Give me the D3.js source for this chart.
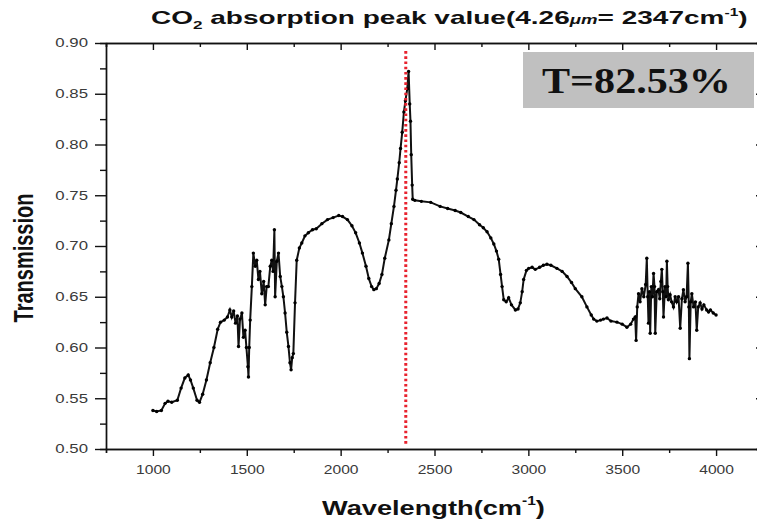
<!DOCTYPE html>
<html>
<head>
<meta charset="utf-8">
<script src="https://cdn.jsdelivr.net/npm/d3@7"></script>
<style>
  body { margin: 0; background: #fff; }
  svg { display: block; font-family: "Liberation Sans", Arial, sans-serif; }
</style>
</head>
<body>
<div id="chart"></div>
<script>
// spectrum (wavenumber in cm-1, transmission)
const wavenumber = [
  1000, 1020, 1045, 1065, 1080, 1100, 1130, 1150, 1170, 1188, 1200, 1215, 1235, 1248, 1265, 1285,
  1305, 1325, 1345, 1360, 1380, 1397, 1410, 1420, 1430, 1440, 1450, 1456, 1464, 1474, 1482, 1491,
  1498, 1506, 1509, 1513, 1518, 1527, 1535, 1545, 1553, 1562, 1570, 1580, 1590, 1598, 1606, 1615,
  1625, 1633, 1640, 1647, 1651, 1660, 1669, 1678, 1687, 1695, 1704, 1713, 1722, 1730, 1736, 1742,
  1748, 1757, 1766, 1780, 1793, 1810, 1828, 1850, 1870, 1900, 1930, 1960, 1990, 2010, 2036, 2060,
  2080, 2100, 2116, 2135, 2150, 2165, 2177, 2190, 2205, 2220, 2235, 2257, 2270, 2284, 2295, 2302,
  2312, 2319, 2328, 2337, 2345, 2355, 2362, 2368, 2372, 2376, 2381, 2384, 2395, 2430, 2480, 2530,
  2570, 2610, 2640, 2680, 2710, 2740, 2760, 2780, 2800, 2816, 2830, 2842, 2852, 2860, 2869, 2882,
  2895, 2910, 2931, 2945, 2957, 2967, 2975, 2990, 3002, 3020, 3037, 3060, 3080, 3099, 3120, 3152,
  3180, 3206, 3230, 3250, 3285, 3312, 3335, 3348, 3365, 3385, 3400, 3419, 3440, 3472, 3500, 3525,
  3545, 3560, 3569, 3574, 3580, 3587, 3595, 3605, 3615, 3625, 3631, 3636, 3640, 3645, 3649, 3655,
  3661, 3667, 3672, 3676, 3684, 3693, 3700, 3706, 3711, 3716, 3720, 3728, 3734, 3738, 3742, 3746,
  3755, 3763, 3773, 3782, 3790, 3800, 3809, 3818, 3826, 3835, 3843, 3850, 3855, 3858, 3865, 3871,
  3880, 3890, 3897, 3905, 3915, 3925, 3935, 3950, 3960, 3970, 3985, 4000
];
const transmission = [
  0.538, 0.537, 0.538, 0.545, 0.547, 0.546, 0.548, 0.560, 0.570, 0.573, 0.568, 0.560, 0.548, 0.546, 0.554, 0.568,
  0.585, 0.600, 0.618, 0.625, 0.627, 0.630, 0.637, 0.630, 0.636, 0.624, 0.631, 0.601, 0.628, 0.634, 0.610, 0.617,
  0.600, 0.581, 0.571, 0.600, 0.627, 0.660, 0.693, 0.680, 0.686, 0.667, 0.675, 0.653, 0.665, 0.642, 0.660, 0.660,
  0.680, 0.686, 0.675, 0.716, 0.650, 0.685, 0.693, 0.670, 0.660, 0.650, 0.634, 0.615, 0.601, 0.585, 0.578, 0.590,
  0.594, 0.644, 0.686, 0.698, 0.703, 0.710, 0.713, 0.716, 0.717, 0.722, 0.726, 0.728, 0.730, 0.729, 0.726, 0.720,
  0.713, 0.703, 0.693, 0.680, 0.668, 0.660, 0.657, 0.658, 0.663, 0.672, 0.688, 0.706, 0.722, 0.739, 0.755, 0.766,
  0.782, 0.796, 0.812, 0.832, 0.843, 0.855, 0.872, 0.840, 0.823, 0.790, 0.760, 0.746, 0.745, 0.744, 0.743, 0.739,
  0.737, 0.735, 0.733, 0.729, 0.726, 0.721, 0.718, 0.714, 0.708, 0.702, 0.695, 0.687, 0.672, 0.660, 0.647, 0.645,
  0.649, 0.642, 0.637, 0.638, 0.644, 0.655, 0.667, 0.676, 0.678, 0.679, 0.677, 0.679, 0.681, 0.682, 0.681, 0.678,
  0.675, 0.670, 0.664, 0.658, 0.650, 0.640, 0.632, 0.628, 0.626, 0.627, 0.628, 0.629, 0.626, 0.625, 0.623, 0.620,
  0.623, 0.628, 0.630, 0.607, 0.640, 0.653, 0.645, 0.658, 0.650, 0.662, 0.688, 0.650, 0.624, 0.655, 0.614, 0.660,
  0.650, 0.673, 0.660, 0.614, 0.655, 0.657, 0.648, 0.665, 0.677, 0.655, 0.630, 0.660, 0.650, 0.685, 0.660, 0.647,
  0.652, 0.645, 0.640, 0.650, 0.645, 0.650, 0.619, 0.648, 0.657, 0.645, 0.650, 0.683, 0.640, 0.589, 0.645, 0.653,
  0.640, 0.645, 0.617, 0.640, 0.644, 0.638, 0.642, 0.637, 0.635, 0.637, 0.634, 0.632
];
const xTicks = [1000, 1500, 2000, 2500, 3000, 3500, 4000];
const xMinorTicks = [750, 1250, 1750, 2250, 2750, 3250, 3750, 4250];
const yTicks = [0.50, 0.55, 0.60, 0.65, 0.70, 0.75, 0.80, 0.85, 0.90];
const yMinorTicks = [0.525, 0.575, 0.625, 0.675, 0.725, 0.775, 0.825, 0.875];
const peakWavenumber = 2347;
const peakLabel = "T=82.53%";

const W = 757, H = 528;
const margin = {top: 43, right: -6, bottom: 79, left: 106};

const x = d3.scaleLinear().domain([750, 4250]).range([margin.left, W - margin.right]);
const y = d3.scaleLinear().domain([0.50, 0.90]).range([H - margin.bottom, margin.top]);

const svg = d3.select("#chart").append("svg")
    .attr("width", W).attr("height", H);
svg.append("rect").attr("width", W).attr("height", H).attr("fill", "#fff");

// stretch a text horizontally so that it covers the wanted width
function stretch(text, width) {
    let w = text.node().getComputedTextLength();
    return width / w;
}

// axes: bottom / left outward, top / right inward
const axisColor = "#111";
function styleAxis(g) {
    g.selectAll("path, line").attr("stroke", axisColor).attr("stroke-width", 1.4);
}

const bottomAxis = svg.append("g").attr("transform", "translate(0," + y(0.50) + ")");
bottomAxis.append("g").call(d3.axisBottom(x).tickValues(xMinorTicks).tickSize(4).tickFormat("")).call(styleAxis);
bottomAxis.append("g").call(d3.axisBottom(x).tickValues(xTicks).tickSize(7).tickSizeOuter(0).tickPadding(9)
    .tickFormat(d3.format("d"))).call(styleAxis);
bottomAxis.selectAll("text")
    .attr("fill", "#3a3a3a").style("font-size", "12px").attr("transform", "scale(1.3,1)");

const topAxis = svg.append("g").attr("transform", "translate(0," + y(0.90) + ")");
topAxis.append("g").call(d3.axisTop(x).tickValues(xMinorTicks).tickSize(-4).tickFormat("")).call(styleAxis);
topAxis.append("g").call(d3.axisTop(x).tickValues(xTicks).tickSize(-7).tickSizeOuter(0).tickFormat("")).call(styleAxis);

const leftAxis = svg.append("g").attr("transform", "translate(" + x(750) + ",0)");
leftAxis.append("g").call(d3.axisLeft(y).tickValues(yMinorTicks).tickSize(6).tickFormat("")).call(styleAxis);
leftAxis.append("g").call(d3.axisLeft(y).tickValues(yTicks).tickSize(11).tickSizeOuter(0)
    .tickFormat(d3.format(".2f"))).call(styleAxis);
leftAxis.selectAll("text")
    .attr("fill", "#3a3a3a").style("font-size", "12px")
    .attr("x", -18 / 1.4).attr("transform", "scale(1.4,1)");

const rightAxis = svg.append("g").attr("transform", "translate(" + x(4250) + ",0)");
rightAxis.append("g").call(d3.axisRight(y).tickValues(yTicks).tickSize(-7).tickSizeOuter(0).tickFormat("")).call(styleAxis);

// spectrum
const line = d3.line()
    .x((d, i) => x(wavenumber[i]))
    .y(d => y(d));
svg.append("path")
    .datum(transmission)
    .attr("d", line)
    .attr("fill", "none")
    .attr("stroke", "#111")
    .attr("stroke-width", 2);
svg.append("g").selectAll("circle")
    .data(transmission)
    .join("circle")
    .attr("cx", (d, i) => x(wavenumber[i]))
    .attr("cy", d => y(d))
    .attr("r", 1.7)
    .attr("fill", "#000");

// CO2 peak marker
svg.append("line")
    .attr("x1", x(peakWavenumber)).attr("x2", x(peakWavenumber))
    .attr("y1", y(0.892)).attr("y2", y(0.503))
    .attr("stroke", "#e8222e")
    .attr("stroke-width", 3)
    .attr("stroke-dasharray", "2.6,2.6");

// value box
svg.append("rect")
    .attr("x", 523).attr("y", 52).attr("width", 231).attr("height", 56)
    .attr("fill", "#c0c0c0");
const tBox = svg.append("g").attr("transform", "translate(542,93)");
const tText = tBox.append("text")
    .attr("font-family", "'Liberation Serif', 'Times New Roman', serif")
    .attr("font-weight", "bold")
    .attr("font-size", 35)
    .attr("fill", "#111")
    .text(peakLabel);
tBox.attr("transform", "translate(542,93) scale(" + stretch(tText, 189) + ",1)");

// title
const titleG = svg.append("g");
const title = titleG.append("text")
    .attr("font-weight", "bold").attr("font-size", 18).attr("fill", "#111");
title.append("tspan").text("CO");
title.append("tspan").attr("font-size", 11).attr("dy", 5).text("2");
title.append("tspan").attr("dy", -5).text(" absorption peak value(4.26");
title.append("tspan").attr("font-size", 12).attr("font-style", "italic").text("μm");
title.append("tspan").text("= 2347cm");
title.append("tspan").attr("font-size", 10).attr("dy", -8).text("-1");
title.append("tspan").attr("dy", 8).text(")");
titleG.attr("transform", "translate(151,24) scale(" + stretch(title, 597) + ",1)");

// axis titles
const xlabG = svg.append("g");
const xlab = xlabG.append("text")
    .attr("font-weight", "bold").attr("font-size", 21).attr("fill", "#111");
xlab.append("tspan").text("Wavelength(cm");
xlab.append("tspan").attr("font-size", 12).attr("dy", -10).text("-1");
xlab.append("tspan").attr("dy", 10).text(")");
xlabG.attr("transform", "translate(322,515) scale(" + stretch(xlab, 223) + ",1)");

svg.append("text")
    .attr("transform", "translate(33,258) rotate(-90) scale(1,1.35)")
    .attr("text-anchor", "middle")
    .attr("font-weight", "bold").attr("font-size", 20).attr("fill", "#111")
    .text("Transmission");
</script>
</body>
</html>
